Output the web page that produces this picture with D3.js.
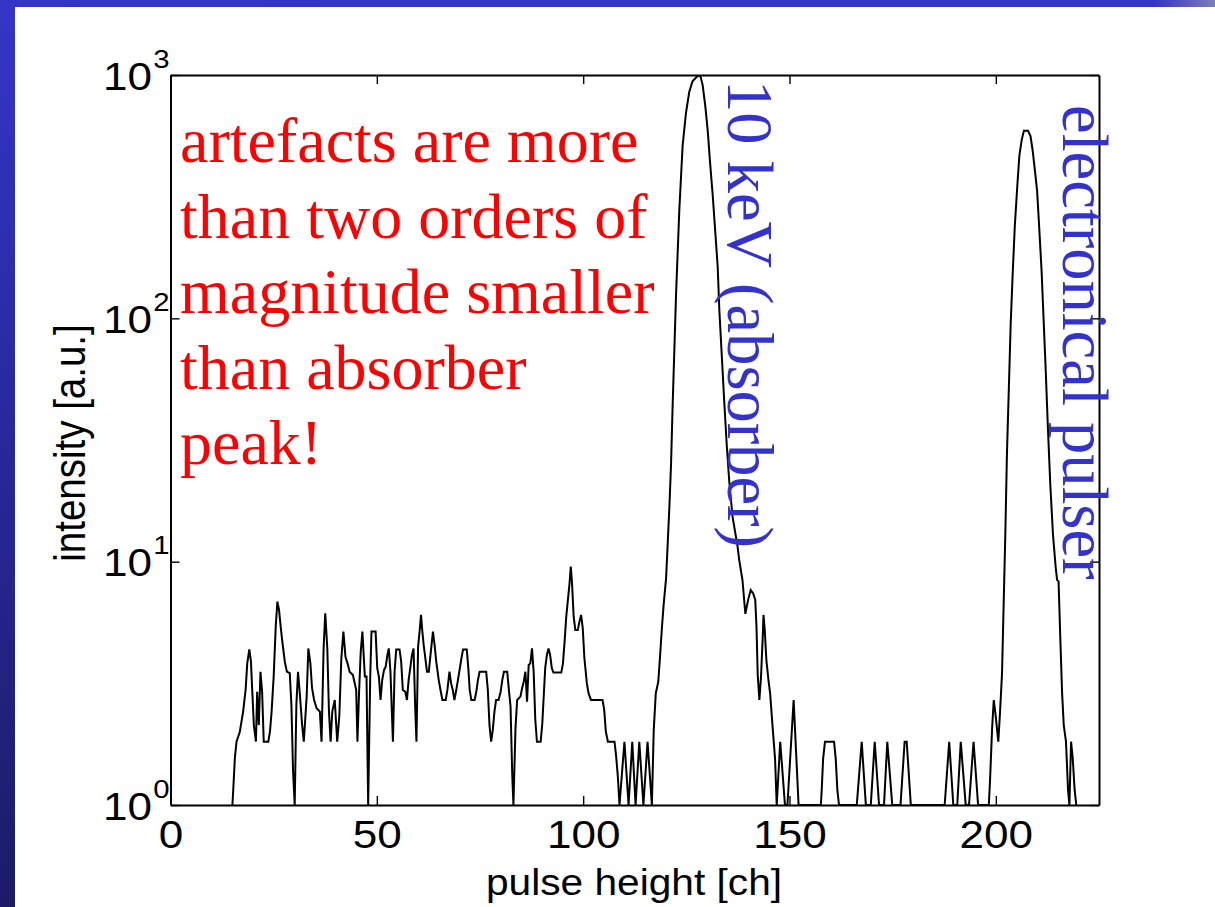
<!DOCTYPE html>
<html><head><meta charset="utf-8">
<script src="https://cdn.jsdelivr.net/npm/d3@7"></script>
<style>body{margin:0;background:#fff;} svg{display:block}</style>
</head><body>
<svg id="c" width="1215" height="907"></svg>
<script>
// ---- data (pulse height in channels, intensity in a.u.) ----
const pulseHeight = [
 15.0,15.2,15.6,16.0,16.8,17.6,18.2,18.6,19.1,19.5,19.8,20.2,20.7,21.0,21.4,21.8,22.2,22.6,23.7,24.1,
 24.5,25.0,25.5,25.9,26.3,26.7,27.1,27.7,28.2,28.9,29.3,29.7,30.1,30.5,30.9,31.3,31.9,32.3,33.0,33.4,
 33.9,34.3,34.8,35.4,36.2,36.6,37.1,37.5,38.0,38.4,38.8,39.2,39.8,40.4,40.9,41.4,41.9,42.4,42.9,43.4,
 44.2,45.0,45.3,45.7,46.1,46.5,47.1,47.5,47.9,48.4,48.7,49.7,50.1,50.5,50.9,51.3,51.75,52.15,52.55,52.9,
 53.3,53.7,53.9,54.3,54.7,55.5,55.9,56.3,56.9,57.3,57.7,58.1,58.5,58.9,59.3,59.6,60.0,60.4,60.7,61.0,
 61.35,61.75,62.15,62.6,63.0,63.6,64.0,64.4,65.0,65.5,65.9,66.7,67.1,67.6,68.0,68.4,68.8,69.25,69.65,70.05,
 70.5,70.9,71.8,72.2,72.5,72.9,73.7,74.1,74.5,74.9,76.5,76.9,77.3,77.7,78.1,78.5,78.9,79.5,80.0,80.4,
 80.8,81.6,82.0,82.4,82.8,83.1,83.6,84.0,84.8,85.2,85.6,86.0,86.4,86.8,87.2,87.6,88.0,88.4,88.8,89.7,
 90.1,90.5,90.8,91.2,91.6,92.0,92.4,92.8,94.7,95.1,95.5,95.9,96.3,96.7,97.0,97.3,97.7,98.1,98.7,99.1,
 99.5,99.9,100.3,100.9,101.3,101.9,104.7,105.1,105.5,106.0,107.6,108.0,108.4,108.8,110.0,111.0,111.9,112.7,113.6,114.6,
 115.6,116.65,117.1,117.6,118.2,118.6,119.1,119.5,120.1,120.5,120.9,121.3,121.7,122.1,122.5,122.9,123.3,123.7,124.1,124.9,
 125.7,126.5,127.7,128.4,128.95,129.6,130.2,130.7,131.4,132.0,132.6,133.0,133.6,134.2,134.8,135.4,136.2,137.4,137.8,138.6,
 139.3,140.0,140.6,141.2,141.7,142.0,142.3,142.7,143.1,143.5,143.7,144.0,144.4,144.9,145.3,145.9,146.5,146.9,147.75,148.9,
 149.5,151.0,152.2,157.6,157.8,158.15,158.6,160.8,161.2,161.6,162.0,166.3,167.5,168.5,169.7,170.65,171.7,172.9,173.7,174.9,
 176.9,177.9,178.4,179.4,187.6,188.7,189.7,190.65,191.5,192.7,193.5,194.6,195.7,198.3,198.6,199.1,199.5,199.9,200.6,201.0,
 201.5,201.9,202.3,202.7,203.2,203.6,204.1,204.6,205.2,205.7,206.3,206.8,207.8,208.4,208.9,209.4,210.0,210.5,211.1,211.6,
 212.1,212.6,213.2,213.85,214.5,214.85,215.2,215.65,216.06,216.46,217.0,217.5,217.83,218.23,218.64,219.1,219.5
];
const intensity = [
 1,1.15,1.56,1.82,2.0,2.42,2.97,3.82,4.36,3.88,2.97,2.13,1.82,2.92,2.13,3.53,2.92,1.82,1.82,2.0,
 2.42,3.37,5.41,6.85,6.33,5.41,4.69,3.88,3.53,3.48,2.58,1.37,1,2.58,3.53,2.92,2.13,1.82,2.79,4.40,
 3.82,3.02,2.70,2.50,2.42,1.82,4.40,6.13,4.40,2.42,1.82,2.42,2.70,1.82,2.31,4.01,5.16,4.06,3.82,3.53,
 3.42,2.97,1.82,2.92,4.27,5.16,3.37,3.37,1,3.37,5.16,5.16,3.65,3.37,2.70,3.26,3.59,3.70,4.13,4.40,
 3.53,2.27,1.82,3.53,4.36,4.36,3.88,2.97,2.92,2.70,3.26,3.65,4.13,4.40,2.50,1.82,4.47,5.24,6.04,5.24,
 4.55,4.01,3.53,3.53,4.13,5.16,4.55,3.88,3.26,2.92,2.70,2.70,2.97,3.53,3.16,2.97,2.70,2.97,3.26,3.59,
 4.01,4.36,4.36,3.59,2.97,2.70,2.70,2.92,3.26,3.53,3.53,2.97,2.13,1.82,2.03,2.42,2.70,2.70,2.92,3.26,
 3.53,3.53,2.97,2.54,1.35,1,2.07,2.70,2.79,3.02,3.21,3.53,2.66,3.76,3.82,4.40,3.53,2.24,1.82,1.82,
 2.17,2.92,3.65,4.13,4.40,4.13,3.65,3.50,3.50,3.82,4.69,5.94,6.96,8.15,9.54,8.15,5.94,5.24,5.24,5.67,
 6.04,5.32,4.01,3.16,2.88,2.70,2.70,2.46,2.00,1.82,1.82,1.58,1.31,1,1.82,1,1.82,1,1.82,1,
 1.82,1,2.03,2.88,3.21,4.01,5.41,6.64,8.58,12.0,16.9,25.3,45,74.7,124,186,279,378,512,695,
 851,942,991,991,911,743,587,448,319,228,163,108,69.8,45,30,21.4,15.3,11.6,10.2,8.41,
 6.1,7.0,7.65,7.41,6.96,5.41,3.42,2.70,3.37,4.84,6.04,5.24,3.94,3.26,2.88,2.10,1.55,1,1.82,1,
 1,2.70,1,1,1.15,1.55,1.82,1.82,1.55,1.15,1,1,1.82,1,1,1.82,1,1,1.82,1,
 1,1.82,1.82,1,1,1.82,1,1,1.82,1,1,1.82,1,1,1.27,2.07,2.70,2.38,1.82,2.38,
 3.48,6.74,13,28,55,95,155,240,350,465,545,590,590,561,493,415,335,238,155,96.7,
 60.4,36.1,20.7,12.9,9.5,8.4,8.3,4.69,2.88,2.13,1.82,1.15,1,1.82,1.55,1.15,1
];
const xTicks = [0, 50, 100, 150, 200];
const yTicks = [1, 10, 100, 1000];
const yTickBase = "10";
const yTickExponents = ["0", "1", "2", "3"];
const xLabel = "pulse height [ch]";
const yLabel = "intensity [a.u.]";
const noteLines = ["artefacts are more", "than two orders of", "magnitude smaller", "than absorber", "peak!"];
const peakLabels = ["10 keV (absorber)", "electronical pulser"];

// ---- drawing ----
const svg = d3.select("#c");
const W = 1215, H = 907;
const defs = svg.append("defs");
const gv = defs.append("linearGradient").attr("id","gv").attr("x1",0).attr("y1",0).attr("x2",0).attr("y2",1);
gv.append("stop").attr("offset","0%").attr("stop-color","#3535c8");
gv.append("stop").attr("offset","100%").attr("stop-color","#1b1b68");
const gh = defs.append("linearGradient").attr("id","gh").attr("x1",0).attr("y1",0).attr("x2",1).attr("y2",0);
gh.append("stop").attr("offset","0%").attr("stop-color","#3333c6");
gh.append("stop").attr("offset","95%").attr("stop-color","#3434c6");
gh.append("stop").attr("offset","100%").attr("stop-color","#7d7db8");

svg.append("rect").attr("width",W).attr("height",H).attr("fill","#fff");
svg.append("rect").attr("x",0).attr("y",0).attr("width",W).attr("height",7).attr("fill","url(#gh)");
svg.append("rect").attr("x",0).attr("y",0).attr("width",15).attr("height",H).attr("fill","url(#gv)");

const pL = 170.5, pR = 1099, pT = 75, pB = 805;
const x = d3.scaleLinear().domain([0, 225]).range([pL, pR]);
const y = d3.scaleLog().domain([1, 1000]).range([pB, pT]).clamp(true);

const axisFont = "'Liberation Sans', Arial, Helvetica, sans-serif";
const stretch = 1.13;

// data line
const line = d3.line().x((d,i)=>x(pulseHeight[i])).y((d,i)=>y(intensity[i]));
svg.append("path").datum(intensity).attr("d", line)
  .attr("fill","none").attr("stroke","#000").attr("stroke-width",2).attr("stroke-linejoin","miter");

// axes
const tl = 9;
const gB = svg.append("g").attr("transform",`translate(0,${pB})`)
  .call(d3.axisBottom(x).tickValues(xTicks).tickSize(-tl).tickSizeOuter(0));
const gT = svg.append("g").attr("transform",`translate(0,${pT})`)
  .call(d3.axisTop(x).tickValues(xTicks).tickSize(-tl).tickSizeOuter(0).tickFormat(""));
const gL = svg.append("g").attr("transform",`translate(${pL},0)`)
  .call(d3.axisLeft(y).tickValues(yTicks).tickSize(-tl).tickSizeOuter(0).tickFormat(""));
const gR = svg.append("g").attr("transform",`translate(${pR},0)`)
  .call(d3.axisRight(y).tickValues(yTicks).tickSize(-tl).tickSizeOuter(0).tickFormat(""));
[gB,gT,gL,gR].forEach(g=>{
  g.select(".domain").attr("stroke","#000").attr("stroke-width",2);
  g.selectAll(".tick line").attr("stroke","#000").attr("stroke-width",1.4);
});
gB.selectAll(".tick text")
  .attr("y", 43).attr("dy", 0)
  .attr("font-family", axisFont).attr("font-size", 39).attr("fill","#000")
  .attr("transform", `scale(${stretch},1)`);

// y tick labels 10^n
yTicks.forEach((v,i)=>{
  const g = svg.append("g").attr("transform",`translate(152,${y(v)+14.5})`);
  g.append("text").attr("text-anchor","end").attr("font-family",axisFont).attr("font-size",39)
    .attr("transform",`scale(${stretch},1)`).text(yTickBase);
  g.append("text").attr("x",1).attr("y",-22).attr("text-anchor","start").attr("font-family",axisFont)
    .attr("font-size",26).attr("transform",`scale(${stretch},1)`).text(yTickExponents[i]);
});

// axis labels
svg.append("g").attr("transform",`translate(634,895)`)
  .append("text").attr("text-anchor","middle").attr("font-family",axisFont).attr("font-size",36)
  .attr("transform",`scale(${stretch},1)`).text(xLabel);
svg.append("g").attr("transform",`translate(85,443) rotate(-90)`)
  .append("text").attr("text-anchor","middle").attr("font-family",axisFont).attr("font-size",38.5)
  .attr("transform",`scale(1,${stretch})`).text(yLabel);

// red note
const serif = "'Liberation Serif', 'Times New Roman', Times, serif";
noteLines.forEach((t,i)=>{
  svg.append("text").attr("x",180).attr("y",162 + i*75.5).attr("font-family",serif)
    .attr("font-size",64).attr("fill","#ff0000").text(t);
});
// blue rotated peak labels
svg.append("text").attr("transform","translate(728,80) rotate(90)").attr("font-family",serif)
  .attr("font-size",64.5).attr("fill","#3333cc").text(peakLabels[0]);
svg.append("text").attr("transform","translate(1063,105) rotate(90)").attr("font-family",serif)
  .attr("font-size",64.5).attr("fill","#3333cc").text(peakLabels[1]);
</script>
</body></html>
